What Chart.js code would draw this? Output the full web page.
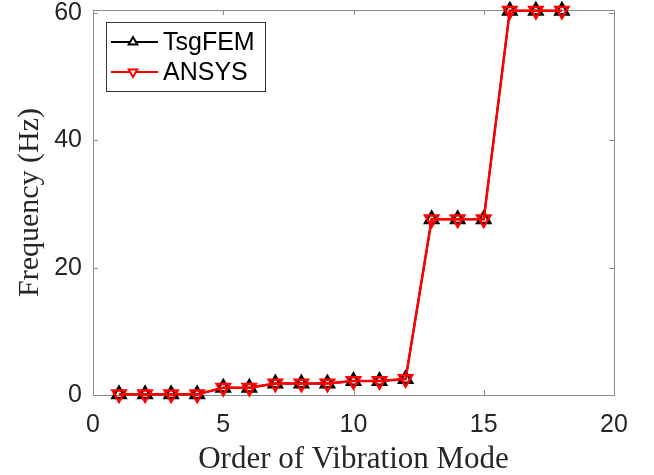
<!DOCTYPE html>
<html>
<head>
<meta charset="utf-8">
<script src="https://cdn.jsdelivr.net/npm/chart.js@4/dist/chart.umd.min.js"></script>
<style>
  html, body { margin: 0; padding: 0; background: #fff; }
  #wrap { width: 654px; height: 475px; }
</style>
</head>
<body>
<div id="wrap"><canvas id="freqChart"></canvas></div>
<script>
// mode numbers and the frequencies
const modes = [1, 2, 3, 4, 5, 6, 7, 8, 9, 10, 11, 12, 13, 14, 15, 16, 17, 18];
const tsgfem = [0.1, 0.1, 0.1, 0.1, 1.15, 1.15, 1.8, 1.8, 1.8, 2.2, 2.2, 2.5, 27.6, 27.6, 27.6, 60.4, 60.4, 60.4];
const ansys  = [0.1, 0.1, 0.1, 0.1, 1.15, 1.15, 1.8, 1.8, 1.8, 2.2, 2.2, 2.5, 27.6, 27.6, 27.6, 60.4, 60.4, 60.4];
const xTicks = [0, 5, 10, 15, 20];
const yTicks = [0, 20, 40, 60];

const axisColor = '#8c8c8c';
const textColor = '#262626';
const sansFont = '"Liberation Sans", Arial, sans-serif';
const serifFont = '"Liberation Serif", "Times New Roman", serif';

// matlab style box with inward ticks and the legend in the top left
const boxPlugin = {
    id: 'matlabBox',
    beforeDatasetsDraw(chart) {
        const c = chart.ctx;
        const a = chart.chartArea;
        const xs = chart.scales.x, ys = chart.scales.y;
        c.save();
        c.strokeStyle = axisColor;
        c.lineWidth = 1;
        c.strokeRect(Math.round(a.left) + 0.5, Math.round(a.top) + 0.5,
            Math.round(a.right - a.left), Math.round(a.bottom - a.top));
        c.beginPath();
        xTicks.forEach(v => {
            const px = Math.round(xs.getPixelForValue(v)) + 0.5;
            c.moveTo(px, a.bottom); c.lineTo(px, a.bottom - 5);
            c.moveTo(px, a.top); c.lineTo(px, a.top + 5);
        });
        yTicks.forEach(v => {
            const py = Math.round(ys.getPixelForValue(v)) + 0.5;
            c.moveTo(a.left, py); c.lineTo(a.left + 5, py);
            c.moveTo(a.right, py); c.lineTo(a.right - 5, py);
        });
        c.stroke();
        c.restore();
    },
    afterDraw(chart) {
        const c = chart.ctx;
        c.save();
        // legend
        const lx = 106, ly = 22, lw = 159, lh = 69;
        c.fillStyle = '#fff';
        c.fillRect(lx, ly, lw, lh);
        c.strokeStyle = '#333';
        c.lineWidth = 1;
        c.strokeRect(lx + 0.5, ly + 0.5, lw, lh);
        const rows = [
            { label: 'TsgFEM', color: '#000', rot: 0, y: ly + 20 },
            { label: 'ANSYS', color: '#ff0000', rot: 180, y: ly + 50 }
        ];
        rows.forEach(r => {
            c.strokeStyle = r.color;
            c.lineWidth = 2;
            c.beginPath();
            c.moveTo(lx + 5, r.y); c.lineTo(lx + 52, r.y);
            c.stroke();
            c.fillStyle = '#fff';
            Chart.helpers.drawPoint(c, {
                pointStyle: 'triangle', radius: 5, rotation: r.rot, borderWidth: 2
            }, lx + 27, r.y);
            c.fillStyle = '#000';
            c.font = '25px ' + sansFont;
            c.textBaseline = 'middle';
            c.textAlign = 'left';
            c.fillText(r.label, lx + 57, r.y + 1);
        });
        c.restore();
    }
};

const ctx = document.getElementById('freqChart').getContext('2d');
const freqChart = new Chart(ctx, {
    type: 'line',
    data: {
        datasets: [
            {
                label: 'TsgFEM',
                data: modes.map((m, i) => ({ x: m, y: tsgfem[i] })),
                order: 1,
                clip: false,
                borderColor: '#000',
                borderWidth: 2,
                pointStyle: 'triangle',
                pointRadius: 7.5,
                pointBorderWidth: 2.5,
                pointBorderColor: '#000',
                pointBackgroundColor: 'rgba(0,0,0,0)'
            },
            {
                label: 'ANSYS',
                data: modes.map((m, i) => ({ x: m, y: ansys[i] })),
                order: 0,
                clip: false,
                borderColor: '#ff0000',
                borderWidth: 2.5,
                pointStyle: 'triangle',
                rotation: 180,
                pointRadius: 7.5,
                pointBorderWidth: 2.5,
                pointBorderColor: '#ff0000',
                pointBackgroundColor: 'rgba(0,0,0,0)'
            }
        ]
    },
    options: {
        responsive: true,
        maintainAspectRatio: false,
        animation: false,
        layout: { padding: { top: 10, right: 40, left: 0, bottom: -3 } },
        plugins: {
            legend: { display: false },
            tooltip: { enabled: false }
        },
        scales: {
            x: {
                type: 'linear',
                min: 0,
                max: 20,
                afterBuildTicks: s => { s.ticks = xTicks.map(v => ({ value: v })); },
                afterFit: s => { s.height = 83; s.paddingLeft = 0; s.paddingRight = 0; },
                grid: { display: false, drawTicks: false },
                border: { display: false },
                ticks: {
                    color: textColor,
                    padding: 15,
                    maxRotation: 0,
                    font: { family: sansFont, size: 25 }
                },
                title: {
                    display: true,
                    text: 'Order of Vibration Mode',
                    color: textColor,
                    padding: { top: 0, bottom: 0 },
                    font: { family: serifFont, size: 31 }
                }
            },
            y: {
                min: 0,
                max: 60.5,
                afterBuildTicks: s => { s.ticks = yTicks.map(v => ({ value: v })); },
                afterFit: s => { s.width = 93; s.paddingTop = 0; s.paddingBottom = 0; },
                grid: { display: false, drawTicks: false },
                border: { display: false },
                ticks: {
                    color: textColor,
                    padding: 11,
                    font: { family: sansFont, size: 25 }
                },
                title: {
                    display: true,
                    text: 'Frequency (Hz)',
                    color: textColor,
                    padding: { top: 12, bottom: 0 },
                    font: { family: serifFont, size: 30 }
                }
            }
        }
    },
    plugins: [boxPlugin]
});
</script>
</body>
</html>
